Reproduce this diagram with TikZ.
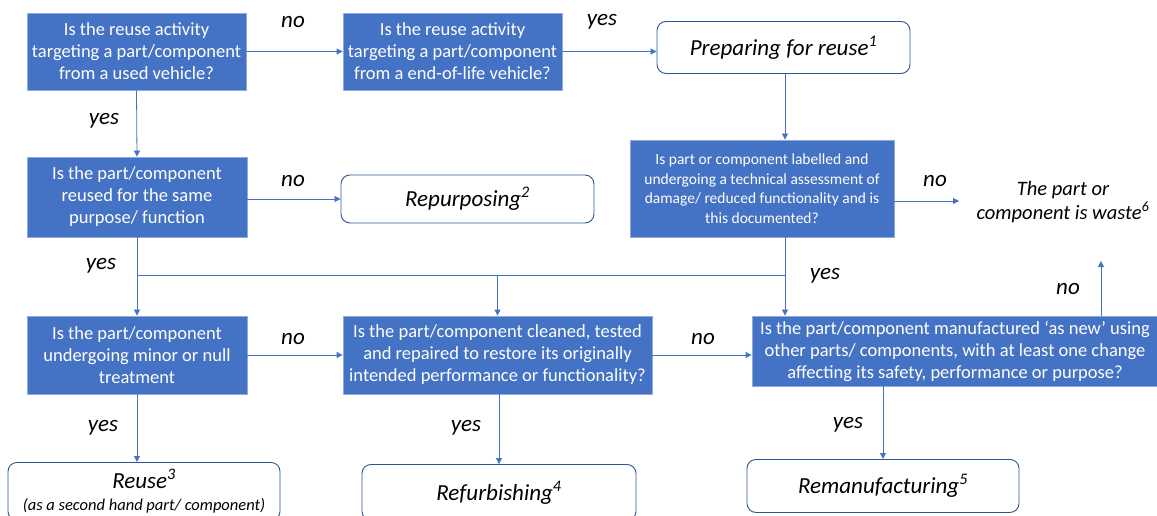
\documentclass[tikz,border=0pt]{standalone}
\usepackage{fontspec}
\setmainfont{Carlito}
\usetikzlibrary{arrows.meta}
\definecolor{qblue}{HTML}{4472C4}
\definecolor{qedge}{HTML}{8FAADC}
\definecolor{rborder}{HTML}{2F5597}
\tikzset{
  qbox/.style={rectangle, fill=qblue, draw=qedge, line width=0.8pt, text=white, align=center, inner sep=0pt,
    font=\fontsize{18.5}{22}\selectfont},
  qsmall/.style={qbox, font=\fontsize{15.5}{19.5}\selectfont},
  rbox/.style={rectangle, rounded corners=9pt, draw=rborder, line width=0.9pt, fill=white, align=center, inner sep=0pt,
    font=\fontsize{23}{24}\selectfont\itshape},
  lbl/.style={font=\fontsize{23}{24}\selectfont\itshape, inner sep=0pt},
  conn/.style={draw=qblue, line width=0.8pt},
  arr/.style={conn, -{Triangle[length=6pt,width=6pt]}}
}
\begin{document}
\begin{tikzpicture}[x=1pt,y=-1pt]
\useasboundingbox (0,0) rectangle (1157,516);
\clip (0,0) rectangle (1157,516);
% decision boxes
\node[qbox, minimum width=219pt, minimum height=77pt] (A) at (136.5,51.5)
  {Is the reuse activity\\targeting a part/component\\from a used vehicle?};
\node[qbox, minimum width=219pt, minimum height=77pt] (B) at (452.5,51.5)
  {Is the reuse activity\\targeting a part/component\\from a end-of-life vehicle?};
\node[rbox, minimum width=253pt, minimum height=52pt] (P) at (783.5,47.5)
  {Preparing for reuse\textsuperscript{1}};
\node[qsmall, minimum width=264pt, minimum height=97pt] (C) at (762,188.5)
  {Is part or component labelled and\\undergoing a technical assessment of\\damage/ reduced functionality and is\\this documented?};
\node[align=center, inner sep=0pt, font=\fontsize{20.5}{24}\selectfont\itshape] (W) at (1063,202)
  {The part or\\component is waste\textsuperscript{6}};
\node[qbox, minimum width=220pt, minimum height=80pt] (D) at (137,197)
  {Is the part/component\\reused for the same\\purpose/ function};
\node[rbox, minimum width=253pt, minimum height=48pt] (R) at (467.5,199)
  {Repurposing\textsuperscript{2}};
\node[qbox, minimum width=220pt, minimum height=78pt] (E) at (137,355)
  {Is the part/component\\undergoing minor or null\\treatment};
\node[qbox, minimum width=309pt, minimum height=78pt] (F) at (497.5,355)
  {Is the part/component cleaned, tested\\and repaired to restore its originally\\intended performance or functionality?};
\node[qbox, minimum width=406pt, minimum height=70pt] (G) at (955,351)
  {Is the part/component manufactured ‘as new’ using\\other parts/ components, with at least one change\\affecting its safety, performance or purpose?};
% outcome boxes
\node[rbox, minimum width=272pt, minimum height=58pt, anchor=north] (U) at (144,462)
  {Reuse\textsuperscript{3}\\[-2pt]{\fontsize{16.5}{18}\selectfont (as a second hand part/ component)}};
\node[rbox, minimum width=274pt, minimum height=56pt, anchor=north] (F2) at (499,464)
  {Refurbishing\textsuperscript{4}};
\node[rbox, minimum width=272pt, minimum height=53pt, anchor=north] (M) at (883,459)
  {Remanufacturing\textsuperscript{5}};
% connectors
\draw[arr] (A.east) -- (B.west);
\draw[arr] (B.east) -- (P.west |- B.east);
\draw[arr] (A.south) -- (D.north);
\coordinate (Px) at (785,0);
\draw[arr] (Px |- P.south) -- (Px |- C.north);
\coordinate (Wend) at (959,201);
\draw[arr] (C.east |- Wend) -- (Wend);
\draw[arr] (D.east |- R.west) -- (R.west);
\coordinate (J1) at (137,275);
\coordinate (J3) at (785,275);
\draw[arr] (D.south) -- (E.north);
\draw[conn] (J1) -- (J3);
\draw[arr] (F.north |- J1) -- (F.north);
\draw[arr] (Px |- C.south) -- (Px |- G.north);
\draw[arr] (E.east) -- (F.west);
\draw[arr] (F.east) -- (G.west |- F.east);
\coordinate (Gup) at (1101,261);
\draw[arr] (Gup |- G.north) -- (Gup);
\draw[arr] (E.south) -- (E.south |- U.north);
\draw[arr] (F.south -| F2.north) -- (F2.north);
\draw[arr] (G.south -| M.north) -- (M.north);
% labels
\node[lbl] (l1) at (293,22) {no};
\node[lbl] (l2) at (602,22) {yes};
\node[lbl] (l3) at (104,121) {yes};
\node[lbl] (l4) at (293,181) {no};
\node[lbl] (l5) at (935,181) {no};
\node[lbl] (l6) at (101,266) {yes};
\node[lbl] (l7) at (825,276) {yes};
\node[lbl] (l8) at (1068,289) {no};
\node[lbl] (l9) at (293,339) {no};
\node[lbl] (l10) at (703,339) {no};
\node[lbl] (l11) at (103,428) {yes};
\node[lbl] (l12) at (466,428) {yes};
\node[lbl] (l13) at (848,425) {yes};
\end{tikzpicture}
\end{document}
